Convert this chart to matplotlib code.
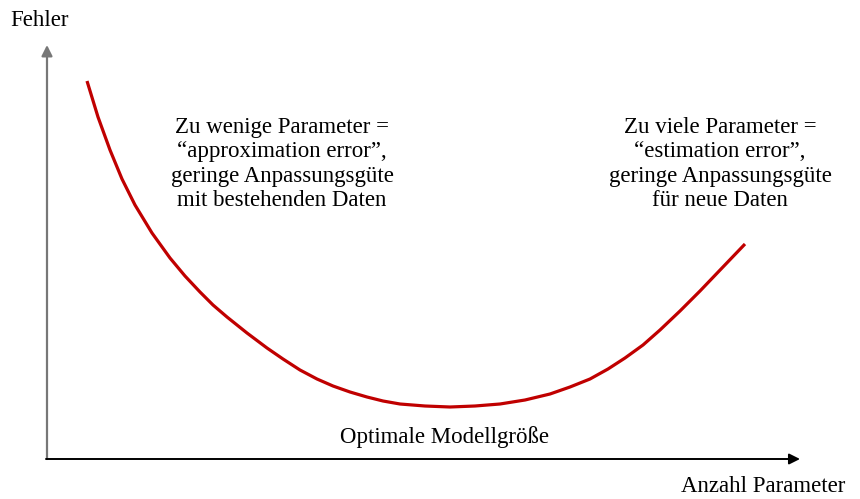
import matplotlib.pyplot as plt

# curve (x = model size, y = error, arbitrary units)
size = [40, 51, 63, 75, 88, 105, 123, 138, 153, 166, 180, 200, 220, 236,
        253, 270, 286, 303, 320, 336, 353, 378, 403, 428, 453, 478, 503,
        523, 543, 561, 578, 596, 613, 633, 653, 675, 698]
error = [378, 342, 309, 280, 254, 226, 201, 183, 167, 154, 142, 126, 111,
         100, 89, 80, 73, 67, 62, 58, 55, 53, 52, 53, 55, 59, 65, 72, 80,
         90, 101, 114, 129, 148, 168, 191, 215]

left_note = "Zu wenige Parameter =\n\u201capproximation error\u201d,\ngeringe Anpassungsgüte\nmit bestehenden Daten"
right_note = "Zu viele Parameter =\n\u201cestimation error\u201d,\ngeringe Anpassungsgüte\nfür neue Daten"

plt.rcParams['font.family'] = ['Liberation Serif', 'DejaVu Serif']

fig = plt.figure(figsize=(8.6, 4.99), dpi=100)
ax = fig.add_axes([0, 0, 1, 1])
ax.set_xlim(-47, 813)
ax.set_ylim(-40, 459)
ax.axis('off')

# axes with arrow heads
ax.annotate('', xy=(0, 414), xytext=(0, 0),
            arrowprops=dict(arrowstyle='-|>', color='#777777', lw=1.6,
                            mutation_scale=16, shrinkA=0, shrinkB=0))
ax.annotate('', xy=(753, 0), xytext=(-1, 0),
            arrowprops=dict(arrowstyle='-|>', color='black', lw=1.4,
                            mutation_scale=16, shrinkA=0, shrinkB=0))

ax.plot(size, error, color='#C00000', lw=2.3, solid_joinstyle='round',
        solid_capstyle='butt')

fs = 16.5
ax.text(-7, 439, "Fehler", fontsize=fs, ha='center', va='center')
ax.text(716, -28, "Anzahl Parameter", fontsize=fs, ha='center', va='center')
ax.text(398, 22, "Optimale Modellgröße", fontsize=fs, ha='center', va='center')
ax.text(235, 295, left_note, fontsize=fs, ha='center', va='center',
        linespacing=1.2)
ax.text(673, 295, right_note, fontsize=fs, ha='center', va='center',
        linespacing=1.2)

fig.savefig('out.png', dpi=100)
